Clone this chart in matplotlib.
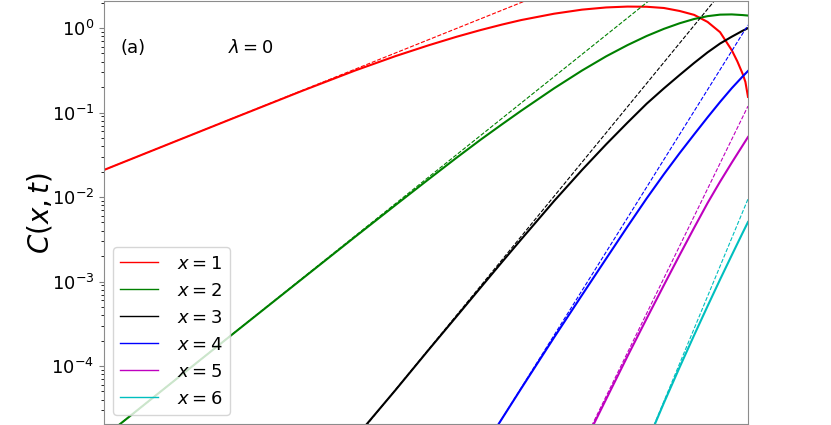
import matplotlib
matplotlib.use("Agg")
import matplotlib.pyplot as plt

# C(x, t), lambda = 0 (log-log axes)
t_x1 = [0.1, 0.15, 0.2, 0.3, 0.4, 0.5, 0.6, 0.7, 0.8, 0.9, 1.0, 1.2, 1.4, 1.6, 1.8,
        2.0, 2.2, 2.4, 2.6, 2.8, 3.0, 3.2, 3.3, 3.4, 3.45, 3.5]
c_x1 = [0.0209, 0.0466, 0.0822, 0.182, 0.314, 0.465, 0.624, 0.787, 0.946, 1.098,
        1.241, 1.476, 1.649, 1.751, 1.793, 1.784, 1.725, 1.59, 1.43, 1.18, 0.892,
        0.546, 0.403, 0.285, 0.23, 0.153]

t_x2 = [0.1, 0.15, 0.2, 0.3, 0.4, 0.5, 0.6, 0.7, 0.8, 0.9, 1.0, 1.2, 1.4, 1.6, 1.8,
        2.0, 2.2, 2.4, 2.6, 2.8, 3.0, 3.2, 3.4, 3.5]
c_x2 = [1.45e-5, 7.19e-5, 2.23e-4, 1.095e-3, 3.38e-3, 8.03e-3, 0.0162, 0.0291,
        0.0477, 0.0725, 0.1047, 0.1933, 0.314, 0.4625, 0.628, 0.804, 0.977, 1.138,
        1.278, 1.381, 1.439, 1.448, 1.422, 1.404]

t_x3 = [0.4, 0.5, 0.6, 0.7, 0.8, 0.9, 1.0, 1.2, 1.4, 1.6, 1.8, 2.0, 2.2, 2.4, 2.6,
        2.8, 3.0, 3.2, 3.4, 3.5]
c_x3 = [1.41e-5, 5.2e-5, 1.55e-4, 3.85e-4, 8.49e-4, 1.70e-3, 3.14e-3, 8.97e-3,
        0.0209, 0.0421, 0.0760, 0.127, 0.193, 0.278, 0.386, 0.515, 0.655, 0.789,
        0.929, 0.996]

t_x4 = [0.88, 1.0, 1.2, 1.4, 1.6, 1.8, 2.0, 2.2, 2.4, 2.6, 2.8, 3.0, 3.2, 3.4, 3.5]
c_x4 = [2.0e-5, 5.39e-5, 2.18e-4, 6.92e-4, 1.87e-3, 4.48e-3, 9.62e-3, 0.0186,
        0.0331, 0.0551, 0.0877, 0.1334, 0.194, 0.268, 0.31]

t_x5 = [1.45, 1.5, 1.6, 1.8, 2.0, 2.2, 2.4, 2.6, 2.8, 3.0, 3.2, 3.4, 3.5]
c_x5 = [1.54e-5, 2.14e-5, 4.07e-5, 1.31e-4, 3.64e-4, 9.06e-4, 2.06e-3, 4.33e-3,
        8.49e-3, 0.0152, 0.0255, 0.0409, 0.0513]

t_x6 = [2.05, 2.2, 2.4, 2.6, 2.8, 3.0, 3.2, 3.4, 3.5]
c_x6 = [1.61e-5, 3.66e-5, 9.69e-5, 2.32e-4, 5.12e-4, 1.057e-3, 2.05e-3, 3.79e-3,
        5.06e-3]

# short-time power laws (dashed), end points
t_fit1, c_fit1 = [0.1, 1.2], [0.0209, 2.87]
t_fit2, c_fit2 = [0.1, 2.2], [1.45e-5, 2.91]
t_fit3, c_fit3 = [0.4, 3.1], [1.37e-5, 3.09]
t_fit4, c_fit4 = [0.88, 3.5], [2.0e-5, 1.085]
t_fit5, c_fit5 = [1.45, 3.5], [1.63e-5, 0.119]
t_fit6, c_fit6 = [2.05, 3.5], [1.65e-5, 9.47e-3]

series = [
    (t_x1, c_x1, t_fit1, c_fit1, 'r', '$x = 1$'),
    (t_x2, c_x2, t_fit2, c_fit2, 'g', '$x = 2$'),
    (t_x3, c_x3, t_fit3, c_fit3, 'k', '$x = 3$'),
    (t_x4, c_x4, t_fit4, c_fit4, 'b', '$x = 4$'),
    (t_x5, c_x5, t_fit5, c_fit5, 'm', '$x = 5$'),
    (t_x6, c_x6, t_fit6, c_fit6, 'c', '$x = 6$'),
]

fig = plt.figure(figsize=(8.31, 4.25), dpi=100)
ax = fig.add_axes([104 / 831, 1 / 425, 644 / 831, 423 / 425])

for t, c, tf, cf, col, lab in series:
    ax.plot(t, c, '-', color=col, lw=1.5, label=lab)
    ax.plot(tf, cf, '--', color=col, lw=0.8)

ax.set_xscale('log')
ax.set_yscale('log')
ax.set_xlim(0.1, 3.5)
ax.set_ylim(2.06e-5, 2.087)
ax.set_ylabel('$C(x,t)$', fontsize=20, labelpad=-2)
ax.tick_params(axis='y', labelsize=13, color='0.5')
ax.tick_params(axis='x', which='both', bottom=False, labelbottom=False)
for s in ax.spines.values():
    s.set_color('0.55')

ax.text(0.026, 0.889, '(a)', transform=ax.transAxes, fontsize=13, va='center')
ax.text(0.193, 0.889, r'$\lambda = 0$', transform=ax.transAxes, fontsize=13, va='center')

leg = ax.legend(loc='lower left', fontsize=13, handlelength=2.1, handletextpad=1.05,
                borderaxespad=0.5)
for h in leg.get_lines():
    h.set_linewidth(1.0)

fig.savefig('out.png', dpi=100)
